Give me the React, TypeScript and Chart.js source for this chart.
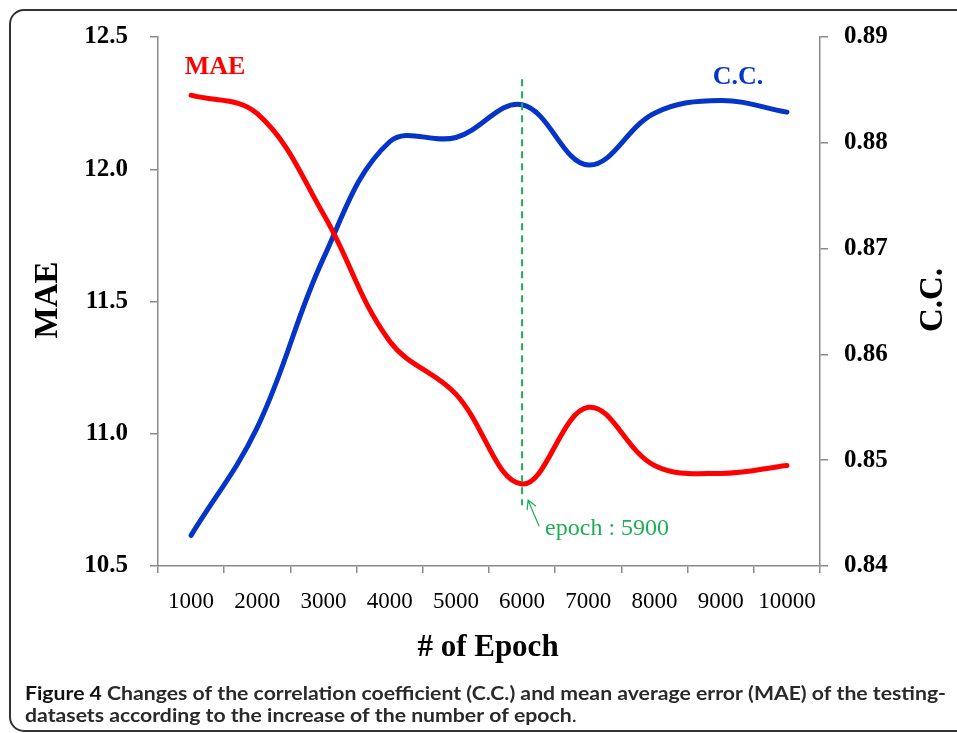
import React, { useEffect, useRef } from 'react';
import { Chart, registerables } from 'chart.js';

Chart.register(...registerables);

const EPOCHS = ['1000', '2000', '3000', '4000', '5000', '6000', '7000', '8000', '9000', '10000'];
const MAE = [12.28, 12.21, 11.83, 11.35, 11.15, 10.81, 11.1, 10.88, 10.85, 10.88];
const CC = [0.8429, 0.8531, 0.8691, 0.8801, 0.8805, 0.8836, 0.8779, 0.8828, 0.884, 0.8829];

const MAE_MIN = 10.5;
const MAE_MAX = 12.5;
const MAE_STEP = 0.5;
const CC_MIN = 0.84;
const CC_MAX = 0.89;
const CC_STEP = 0.01;

const BEST_INDEX = 5;
const BEST_LABEL = 'epoch : 5900';
const BEST_TOP_MAE = 12.34;
const BEST_BOTTOM_MAE = 10.73;

const CAPTION_BOLD = 'Figure 4';
const CAPTION_LINE1 = ' Changes of the correlation coefficient (C.C.) and mean average error (MAE) of the testing-';
const CAPTION_LINE2 = 'datasets according to the increase of the number of epoch';

const SERIF = '"Liberation Serif", "Times New Roman", serif';
const SANS = 'Lato, "Open Sans", "Liberation Sans", sans-serif';
const RED = '#ff0000';
const BLUE = '#0535c8';
const GREEN = '#1fae55';
const AXIS = '#8a8a8a';

const W = 957;
const H = 733;

const decor = {
  id: 'decor',
  beforeDraw(chart: any) {
    const ctx = chart.ctx;
    ctx.save();
    ctx.fillStyle = '#fff';
    ctx.fillRect(0, 0, W, H);
    ctx.strokeStyle = '#333';
    ctx.lineWidth = 2;
    ctx.beginPath();
    ctx.roundRect(10, 10, 980, 721, 14);
    ctx.stroke();
    ctx.restore();
  },
  afterDatasetsDraw(chart: any) {
    const ctx = chart.ctx;
    const x = chart.scales.x.getPixelForValue(BEST_INDEX);
    const y = chart.scales.y;
    const top = y.getPixelForValue(BEST_TOP_MAE);
    const bottom = y.getPixelForValue(BEST_BOTTOM_MAE);
    ctx.save();
    ctx.strokeStyle = GREEN;
    ctx.lineWidth = 2;
    ctx.setLineDash([7, 5]);
    ctx.beginPath();
    ctx.moveTo(x, top);
    ctx.lineTo(x, bottom);
    ctx.stroke();
    ctx.setLineDash([]);
    // arrow
    ctx.lineWidth = 1.2;
    const ax = x + 6, ay = bottom - 5;
    const bx = x + 17, by = bottom + 21;
    ctx.beginPath();
    ctx.moveTo(bx, by);
    ctx.lineTo(ax, ay);
    ctx.moveTo(ax - 1, ay + 10);
    ctx.lineTo(ax, ay);
    ctx.lineTo(ax + 8, ay + 6);
    ctx.stroke();
    ctx.fillStyle = GREEN;
    ctx.font = `24px ${SERIF}`;
    ctx.textAlign = 'left';
    ctx.textBaseline = 'alphabetic';
    ctx.fillText(BEST_LABEL, x + 23, bottom + 30);
    ctx.restore();
  },
  afterDraw(chart: any) {
    const ctx = chart.ctx;
    ctx.save();
    // series labels
    ctx.font = `bold 26px ${SERIF}`;
    ctx.textAlign = 'center';
    ctx.textBaseline = 'alphabetic';
    ctx.fillStyle = RED;
    ctx.fillText('MAE', 215, 74);
    ctx.fillStyle = BLUE;
    ctx.fillText('C.C.', 738, 84);
    // axis titles
    ctx.fillStyle = '#000';
    ctx.textBaseline = 'middle';
    ctx.font = `bold 33px ${SERIF}`;
    ctx.save();
    ctx.translate(48, 300);
    ctx.rotate(-Math.PI / 2);
    ctx.fillText('MAE', 0, 0);
    ctx.restore();
    ctx.save();
    ctx.translate(933, 300);
    ctx.rotate(-Math.PI / 2);
    ctx.fillText('C.C.', 0, 0);
    ctx.restore();
    ctx.font = `bold 31px ${SERIF}`;
    ctx.fillText('# of Epoch', 488, 648);
    // caption
    ctx.textAlign = 'left';
    ctx.textBaseline = 'alphabetic';
    const boldFont = `bold 19px ${SANS}`;
    ctx.font = boldFont;
    const w1 = ctx.measureText(CAPTION_BOLD).width + ctx.measureText(CAPTION_LINE1).width;
    const sx = 921 / w1;
    ctx.save();
    ctx.translate(25, 700);
    ctx.scale(sx, 1);
    ctx.fillStyle = '#111';
    ctx.fillText(CAPTION_BOLD, 0, 0);
    const bw = ctx.measureText(CAPTION_BOLD).width;
    ctx.fillStyle = '#2a2a2a';
    ctx.fillText(CAPTION_LINE1, bw, 0);
    ctx.restore();
    ctx.save();
    ctx.translate(25, 722);
    ctx.scale(sx, 1);
    ctx.fillStyle = '#2a2a2a';
    ctx.fillText(CAPTION_LINE2, 0, 0);
    const l2 = ctx.measureText(CAPTION_LINE2).width;
    ctx.font = `19px ${SANS}`;
    ctx.fillText('.', l2, 0);
    ctx.restore();
    ctx.restore();
  },
};

export default function App() {
  const ref = useRef<HTMLCanvasElement | null>(null);
  useEffect(() => {
    if (!ref.current) return;
    const chart = new Chart(ref.current, {
      type: 'line',
      data: {
        labels: EPOCHS,
        datasets: [
          {
            label: 'MAE',
            data: MAE,
            yAxisID: 'y',
            borderColor: RED,
            backgroundColor: RED,
            borderWidth: 5,
            pointRadius: 0,
            tension: 0.38,
            borderCapStyle: 'round',
            borderJoinStyle: 'round',
            fill: false,
          },
          {
            label: 'C.C.',
            data: CC,
            yAxisID: 'y1',
            borderColor: BLUE,
            backgroundColor: BLUE,
            borderWidth: 5,
            pointRadius: 0,
            tension: 0.38,
            borderCapStyle: 'round',
            borderJoinStyle: 'round',
            fill: false,
          },
        ],
      },
      options: {
        responsive: false,
        animation: false,
        devicePixelRatio: 1,
        layout: { padding: { top: 35, left: 0, right: 0, bottom: 0 } },
        plugins: { legend: { display: false }, tooltip: { enabled: false } },
        scales: {
          x: {
            type: 'category',
            offset: true,
            grid: { offset: true, drawOnChartArea: false, tickLength: 7, color: AXIS, lineWidth: 1.5 },
            border: { color: AXIS, width: 1.5 },
            ticks: { font: { family: SERIF, size: 23 }, color: '#000', padding: 15, maxRotation: 0, autoSkip: false },
            afterFit: (s: any) => { s.height = H - 566; },
          },
          y: {
            position: 'left',
            min: MAE_MIN,
            max: MAE_MAX,
            ticks: {
              stepSize: MAE_STEP,
              callback: (v: any) => Number(v).toFixed(1),
              font: { family: SERIF, size: 25, weight: 'bold' },
              color: '#000',
              padding: 22,
            },
            grid: { drawOnChartArea: false, tickLength: 8, color: AXIS, lineWidth: 1.5 },
            border: { color: AXIS, width: 1.5 },
            afterFit: (s: any) => { s.width = 158; },
          },
          y1: {
            position: 'right',
            min: CC_MIN,
            max: CC_MAX,
            ticks: {
              stepSize: CC_STEP,
              callback: (v: any) => Number(v).toFixed(2),
              font: { family: SERIF, size: 25, weight: 'bold' },
              color: '#000',
              padding: 16,
            },
            grid: { drawOnChartArea: false, tickLength: 8, color: AXIS, lineWidth: 1.5 },
            border: { color: AXIS, width: 1.5 },
            afterFit: (s: any) => { s.width = W - 820; },
          },
        },
      },
      plugins: [decor],
    } as any);
    return () => chart.destroy();
  }, []);
  return (
    <div style={{ position: 'fixed', left: 0, top: 0, width: W, height: H, background: '#fff' }}>
      <canvas ref={ref} width={W} height={H} style={{ display: 'block', width: W, height: H }} />
    </div>
  );
}
